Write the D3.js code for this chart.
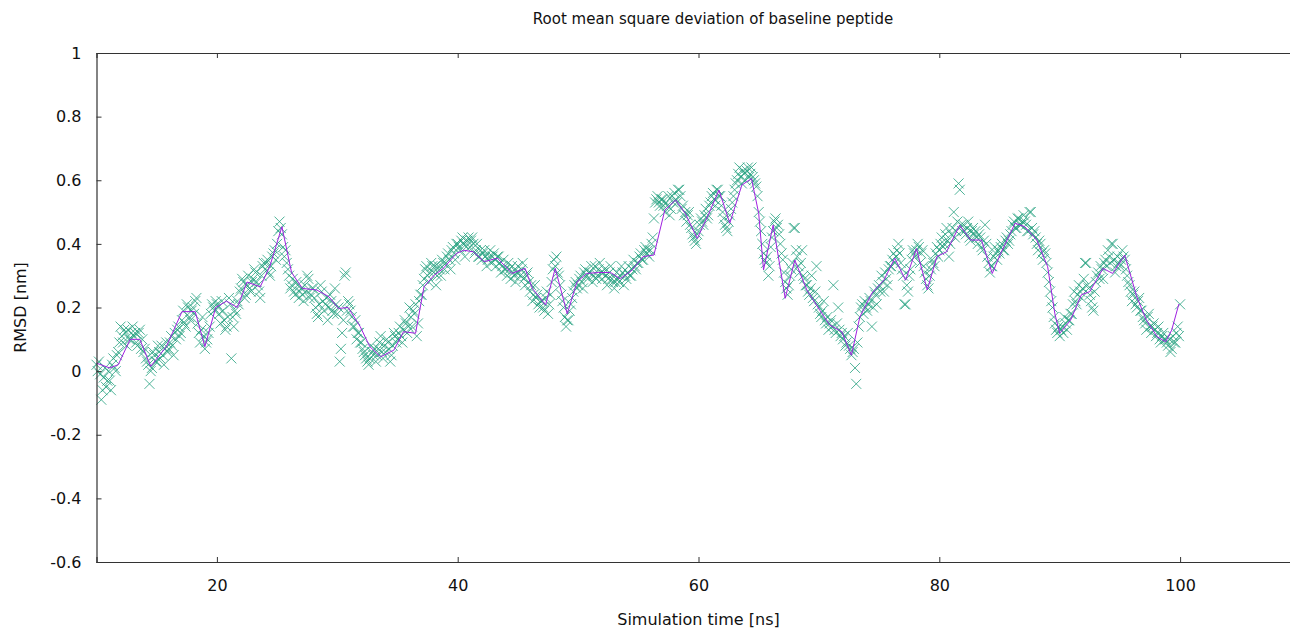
<!DOCTYPE html>
<html>
<head>
<meta charset="utf-8">
<script src="https://cdn.jsdelivr.net/npm/d3@7"></script>
<style>
  body { margin: 0; background: #fff; }
  svg { display: block; }
  text { font-family: "DejaVu Sans", Verdana, sans-serif; fill: #111; }
</style>
</head>
<body>
<script>
/*
  RMSD of baseline peptide, gnuplot style scatter + running line
*/

// frames are written every 0.1 ns starting at 10 ns
var frameStart = 10;
var frameStep = 0.1;

// rmsd per frame [nm], one row per ns
var rmsdFrames = [
  0.02, 0.00, 0.03, -0.01, -0.09, -0.06, -0.02, 0.01, -0.05, -0.03,
  0.00, -0.03, -0.06, 0.02, 0.04, 0.01, 0.00, 0.05, 0.06, 0.09,
  0.14, 0.11, 0.09, 0.13, 0.12, 0.08, 0.13, 0.10, 0.10, 0.12,
  0.14, 0.11, 0.12, 0.09, 0.08, 0.12, 0.13, 0.07, 0.10, 0.06,
  0.07, 0.04, 0.03, 0.02, -0.04, 0.00, 0.01, 0.06, 0.05, 0.03,
  0.03, 0.08, 0.06, 0.04, 0.08, 0.05, 0.02, 0.07, 0.09, 0.06,
  0.07, 0.09, 0.11, 0.08, 0.05, 0.12, 0.10, 0.13, 0.14, 0.11,
  0.12, 0.16, 0.19, 0.15, 0.14, 0.21, 0.20, 0.17, 0.16, 0.19,
  0.20, 0.18, 0.22, 0.23, 0.15, 0.12, 0.09, 0.13, 0.17, 0.11,
  0.07, 0.09, 0.10, 0.12, 0.14, 0.18, 0.21, 0.20, 0.19, 0.22,
  0.21, 0.20, 0.18, 0.15, 0.22, 0.19, 0.16, 0.13, 0.14, 0.17,   // 20
  0.23, 0.21, 0.04, 0.17, 0.14, 0.19, 0.18, 0.22, 0.21, 0.25,
  0.26, 0.29, 0.28, 0.23, 0.24, 0.27, 0.30, 0.26, 0.25, 0.28,
  0.29, 0.32, 0.31, 0.28, 0.27, 0.25, 0.23, 0.30, 0.33, 0.34,
  0.32, 0.34, 0.35, 0.31, 0.30, 0.33, 0.36, 0.37, 0.38, 0.35,
  0.40, 0.44, 0.47, 0.45, 0.43, 0.39, 0.36, 0.38, 0.34, 0.32,
  0.30, 0.26, 0.27, 0.29, 0.25, 0.24, 0.28, 0.27, 0.23, 0.25,
  0.26, 0.24, 0.22, 0.27, 0.25, 0.30, 0.29, 0.23, 0.24, 0.26,
  0.26, 0.23, 0.20, 0.18, 0.17, 0.21, 0.27, 0.25, 0.22, 0.19,
  0.21, 0.23, 0.16, 0.20, 0.24, 0.22, 0.19, 0.18, 0.26, 0.21,
  0.18, 0.20, 0.03, 0.07, 0.12, 0.16, 0.30, 0.31, 0.19, 0.22,   // 30
  0.21, 0.19, 0.17, 0.14, 0.14, 0.16, 0.10, 0.12, 0.12, 0.09,
  0.09, 0.07, 0.06, 0.05, 0.04, 0.03, 0.02, 0.04, 0.08, 0.06,
  0.05, 0.07, 0.03, 0.05, 0.07, 0.09, 0.11, 0.06, 0.04, 0.08,
  0.06, 0.10, 0.09, 0.07, 0.03, 0.05, 0.08, 0.12, 0.11, 0.09,
  0.10, 0.12, 0.14, 0.11, 0.09, 0.13, 0.16, 0.15, 0.12, 0.14,
  0.20, 0.17, 0.14, 0.19, 0.18, 0.21, 0.11, 0.15, 0.22, 0.24,
  0.24, 0.27, 0.29, 0.32, 0.33, 0.30, 0.28, 0.31, 0.34, 0.33,
  0.31, 0.33, 0.27, 0.30, 0.33, 0.32, 0.30, 0.35, 0.34, 0.32,
  0.34, 0.36, 0.37, 0.35, 0.32, 0.38, 0.39, 0.37, 0.35, 0.40,
  0.40, 0.39, 0.38, 0.41, 0.42, 0.40, 0.36, 0.39, 0.41, 0.42,   // 40
  0.39, 0.41, 0.42, 0.40, 0.37, 0.38, 0.40, 0.36, 0.36, 0.38,
  0.35, 0.37, 0.38, 0.36, 0.33, 0.35, 0.36, 0.38, 0.34, 0.36,
  0.37, 0.35, 0.33, 0.36, 0.36, 0.34, 0.31, 0.33, 0.35, 0.32,
  0.32, 0.30, 0.34, 0.32, 0.29, 0.33, 0.31, 0.30, 0.28, 0.31,
  0.33, 0.31, 0.30, 0.32, 0.34, 0.29, 0.27, 0.30, 0.31, 0.28,
  0.25, 0.27, 0.22, 0.24, 0.27, 0.23, 0.24, 0.21, 0.20, 0.22,
  0.22, 0.20, 0.19, 0.23, 0.25, 0.18, 0.21, 0.24, 0.28, 0.32,
  0.35, 0.33, 0.36, 0.31, 0.30, 0.27, 0.24, 0.22, 0.20, 0.17,
  0.14, 0.16, 0.16, 0.19, 0.21, 0.23, 0.25, 0.27, 0.28, 0.26,
  0.27, 0.29, 0.30, 0.28, 0.26, 0.31, 0.32, 0.30, 0.29, 0.31,   // 50
  0.31, 0.33, 0.28, 0.30, 0.33, 0.29, 0.30, 0.32, 0.34, 0.31,
  0.29, 0.31, 0.32, 0.30, 0.27, 0.29, 0.31, 0.33, 0.29, 0.28,
  0.26, 0.28, 0.31, 0.29, 0.28, 0.30, 0.33, 0.31, 0.27, 0.30,
  0.29, 0.31, 0.33, 0.30, 0.30, 0.32, 0.35, 0.33, 0.32, 0.34,
  0.34, 0.36, 0.37, 0.35, 0.35, 0.38, 0.39, 0.37, 0.38, 0.36,
  0.38, 0.40, 0.42, 0.48, 0.53, 0.54, 0.55, 0.53, 0.52, 0.54,
  0.54, 0.52, 0.50, 0.53, 0.52, 0.55, 0.49, 0.51, 0.55, 0.53,
  0.56, 0.54, 0.53, 0.57, 0.57, 0.55, 0.51, 0.52, 0.49, 0.50,
  0.47, 0.49, 0.50, 0.46, 0.45, 0.43, 0.42, 0.41, 0.40, 0.43,
  0.44, 0.46, 0.48, 0.47, 0.46, 0.49, 0.51, 0.48, 0.49, 0.52,   // 60
  0.53, 0.55, 0.56, 0.54, 0.52, 0.57, 0.57, 0.55, 0.55, 0.52,
  0.50, 0.48, 0.46, 0.45, 0.44, 0.47, 0.49, 0.51, 0.53, 0.55,
  0.57, 0.59, 0.60, 0.62, 0.64, 0.61, 0.59, 0.63, 0.62, 0.60,
  0.63, 0.64, 0.61, 0.62, 0.64, 0.61, 0.60, 0.59, 0.58, 0.55,
  0.50, 0.47, 0.44, 0.40, 0.37, 0.35, 0.34, 0.36, 0.30, 0.33,
  0.39, 0.42, 0.44, 0.47, 0.48, 0.45, 0.46, 0.43, 0.40, 0.37,
  0.35, 0.31, 0.28, 0.26, 0.24, 0.27, 0.30, 0.32, 0.34, 0.45,
  0.45, 0.38, 0.36, 0.33, 0.31, 0.34, 0.38, 0.30, 0.29, 0.27,
  0.27, 0.25, 0.24, 0.26, 0.30, 0.23, 0.22, 0.25, 0.33, 0.21,
  0.20, 0.18, 0.17, 0.19, 0.22, 0.16, 0.15, 0.17, 0.13, 0.15,   // 70
  0.16, 0.14, 0.27, 0.13, 0.12, 0.15, 0.20, 0.13, 0.11, 0.12,
  0.10, 0.11, 0.08, 0.09, 0.12, 0.08, 0.07, 0.05, 0.06, 0.07,
  0.01, -0.04, 0.09, 0.14, 0.17, 0.20, 0.21, 0.18, 0.22, 0.20,
  0.19, 0.21, 0.23, 0.22, 0.14, 0.20, 0.25, 0.24, 0.21, 0.26,
  0.27, 0.25, 0.30, 0.28, 0.25, 0.31, 0.29, 0.27, 0.32, 0.33,
  0.33, 0.35, 0.37, 0.34, 0.36, 0.38, 0.40, 0.37, 0.34, 0.32,
  0.30, 0.21, 0.21, 0.27, 0.25, 0.30, 0.32, 0.35, 0.38, 0.37,
  0.36, 0.38, 0.40, 0.39, 0.34, 0.37, 0.38, 0.33, 0.31, 0.29,
  0.27, 0.26, 0.30, 0.32, 0.35, 0.34, 0.33, 0.37, 0.39, 0.36,
  0.38, 0.40, 0.42, 0.39, 0.40, 0.43, 0.45, 0.41, 0.36, 0.40,   // 80
  0.43, 0.45, 0.50, 0.42, 0.44, 0.47, 0.59, 0.57, 0.46, 0.44,
  0.46, 0.44, 0.43, 0.45, 0.47, 0.42, 0.41, 0.44, 0.45, 0.43,
  0.44, 0.42, 0.40, 0.43, 0.42, 0.39, 0.38, 0.41, 0.46, 0.40,
  0.36, 0.34, 0.31, 0.33, 0.33, 0.36, 0.39, 0.37, 0.35, 0.38,
  0.37, 0.39, 0.40, 0.38, 0.38, 0.41, 0.42, 0.40, 0.41, 0.43,
  0.44, 0.46, 0.47, 0.45, 0.45, 0.48, 0.48, 0.46, 0.46, 0.47,
  0.49, 0.47, 0.46, 0.44, 0.44, 0.50, 0.50, 0.45, 0.43, 0.44,
  0.42, 0.40, 0.38, 0.41, 0.40, 0.37, 0.35, 0.38, 0.37, 0.34,
  0.31, 0.28, 0.25, 0.22, 0.20, 0.17, 0.15, 0.13, 0.12, 0.14,
  0.11, 0.13, 0.14, 0.12, 0.17, 0.15, 0.13, 0.16, 0.16, 0.18,   // 90
  0.18, 0.21, 0.25, 0.22, 0.21, 0.24, 0.27, 0.25, 0.23, 0.26,
  0.29, 0.34, 0.34, 0.27, 0.26, 0.24, 0.22, 0.20, 0.19, 0.25,
  0.28, 0.30, 0.31, 0.29, 0.33, 0.32, 0.29, 0.34, 0.35, 0.33,
  0.38, 0.36, 0.34, 0.40, 0.40, 0.35, 0.31, 0.33, 0.36, 0.34,
  0.33, 0.35, 0.38, 0.36, 0.35, 0.32, 0.30, 0.28, 0.27, 0.25,
  0.22, 0.24, 0.25, 0.21, 0.20, 0.22, 0.23, 0.19, 0.19, 0.17,
  0.16, 0.15, 0.13, 0.17, 0.18, 0.14, 0.12, 0.14, 0.15, 0.13,
  0.11, 0.12, 0.14, 0.10, 0.09, 0.11, 0.12, 0.10, 0.10, 0.09,
  0.08, 0.10, 0.06, 0.07, 0.11, 0.09, 0.09, 0.12, 0.14, 0.11,
  0.21                                                            // 100
];

// the purple line (block averaged trace)
var lineTime = [10.0, 11.1, 11.8, 12.8, 13.6, 14.5, 15.8, 17.1, 18.2, 19.0,
  19.9, 20.8, 21.7, 22.5, 23.6, 24.4, 25.4, 26.2, 27.1, 28.3,
  29.3, 30.1, 30.9, 31.9, 32.7, 33.6, 34.7, 35.5, 36.5, 37.2,
  38.0, 38.8, 39.9, 40.5, 41.3, 42.2, 43.3, 44.5, 45.6, 46.2,
  47.3, 48.1, 49.1, 49.9, 50.7, 51.7, 52.7, 53.5, 54.5, 55.4,
  56.3, 57.2, 58.1, 58.9, 59.9, 60.8, 61.7, 62.6, 63.6, 64.4,
  65.0, 65.4, 66.2, 67.2, 68.0, 69.0, 70.1, 70.9, 71.9, 72.7,
  73.4, 74.4, 75.4, 76.3, 77.2, 78.1, 79.0, 79.8, 80.6, 81.7,
  82.6, 83.5, 84.4, 85.1, 86.3, 87.1, 88.1, 89.0, 89.6, 90.0,
  90.9, 91.8, 92.5, 93.6, 94.4, 95.4, 96.4, 97.2, 98.1, 98.8,
  99.3, 99.9];
var lineRmsd = [0.025, 0.01, 0.02, 0.10, 0.10, 0.015, 0.077, 0.187, 0.187, 0.077,
  0.20, 0.22, 0.20, 0.28, 0.265, 0.33, 0.454, 0.31, 0.26, 0.255,
  0.234, 0.197, 0.20, 0.14, 0.077, 0.045, 0.066, 0.124, 0.119, 0.265,
  0.30, 0.323, 0.37, 0.38, 0.375, 0.344, 0.355, 0.307, 0.323, 0.26,
  0.208, 0.323, 0.18, 0.28, 0.307, 0.31, 0.31, 0.29, 0.318, 0.36,
  0.365, 0.506, 0.538, 0.496, 0.417, 0.49, 0.569, 0.465, 0.585, 0.605,
  0.496, 0.318, 0.459, 0.229, 0.349, 0.255, 0.19, 0.145, 0.124, 0.05,
  0.17, 0.245, 0.286, 0.355, 0.286, 0.385, 0.255, 0.36, 0.375, 0.459,
  0.412, 0.412, 0.307, 0.37, 0.465, 0.454, 0.412, 0.328, 0.18, 0.119,
  0.16, 0.24, 0.25, 0.323, 0.307, 0.365, 0.234, 0.16, 0.108, 0.092,
  0.129, 0.211];

var xTicks = [20, 40, 60, 80, 100];
var yTicks = [-0.6, -0.4, -0.2, 0, 0.2, 0.4, 0.6, 0.8, 1];

window.onload = function() {
  drawChart();
};

function drawChart() {
  var margin = {top: 53, left: 96.5},
      width = 1204,   // x = 110 falls just past the window edge
      height = 509;

  var svg = d3.select("body").append("svg")
      .attr("width", 1290)
      .attr("height", 630);

  var g = svg.append("g")
      .attr("transform", "translate(" + margin.left + "," + margin.top + ")");

  var xScale = d3.scaleLinear().domain([10, 110]).range([0, width]);
  var yScale = d3.scaleLinear().domain([-0.6, 1]).range([height, 0]);

  var points = rmsdFrames.map(function(v, i) {
    return [frameStart + i * frameStep, v];
  });
  var avg = lineTime.map(function(t, i) { return [t, lineRmsd[i]]; });

  // data first, frame on top like gnuplot
  var s = 5;
  g.append("g").selectAll("path")
      .data(points)
    .enter().append("path")
      .attr("d", function(d) {
        var x = xScale(d[0]), y = yScale(d[1]);
        return "M" + (x - s) + "," + (y - s) + "L" + (x + s) + "," + (y + s) +
               "M" + (x - s) + "," + (y + s) + "L" + (x + s) + "," + (y - s);
      })
      .attr("stroke", "#23a07e")
      .attr("stroke-opacity", 0.8)
      .attr("stroke-width", 1)
      .attr("fill", "none");

  var line = d3.line()
      .x(function(d) { return xScale(d[0]); })
      .y(function(d) { return yScale(d[1]); });

  g.append("path")
      .datum(avg)
      .attr("d", line)
      .attr("fill", "none")
      .attr("stroke", "#a020e0")
      .attr("stroke-width", 1);

  // axes, gnuplot ticks point inward
  var xAxis = d3.axisBottom(xScale).tickValues(xTicks).tickSize(-5).tickPadding(18)
      .tickFormat(function(d) { return String(d); });
  var xTop = d3.axisTop(xScale).tickValues(xTicks).tickSize(-5).tickFormat("");
  var yAxis = d3.axisLeft(yScale).tickValues(yTicks).tickSize(-5).tickPadding(15)
      .tickFormat(function(d) { return String(+d.toFixed(1)); });

  [g.append("g").attr("transform", "translate(0," + height + ")").call(xAxis),
   g.append("g").call(xTop),
   g.append("g").call(yAxis)].forEach(function(a) {
    a.selectAll(".domain").attr("stroke", "#333").attr("stroke-width", 1.2);
    a.selectAll(".tick line").attr("stroke", "#333");
    a.selectAll(".tick text")
        .style("font-size", "16px")
        .style("font-family", "DejaVu Sans")
        .attr("fill", "#111");
  });
  g.selectAll(".domain").attr("d", function() {
    return d3.select(this).attr("d").replace(/V6|V-6|H6|H-6/g, "");
  });

  svg.append("text")
      .attr("x", 713)
      .attr("y", 24)
      .attr("text-anchor", "middle")
      .style("font-size", "15px")
      .text("Root mean square deviation of baseline peptide");

  svg.append("text")
      .attr("x", margin.left + width / 2)
      .attr("y", 625)
      .attr("text-anchor", "middle")
      .style("font-size", "16px")
      .text("Simulation time [ns]");

  svg.append("text")
      .attr("transform", "translate(26," + (margin.top + height / 2) + ") rotate(-90)")
      .attr("text-anchor", "middle")
      .style("font-size", "16px")
      .text("RMSD [nm]");
}
</script>
</body>
</html>
